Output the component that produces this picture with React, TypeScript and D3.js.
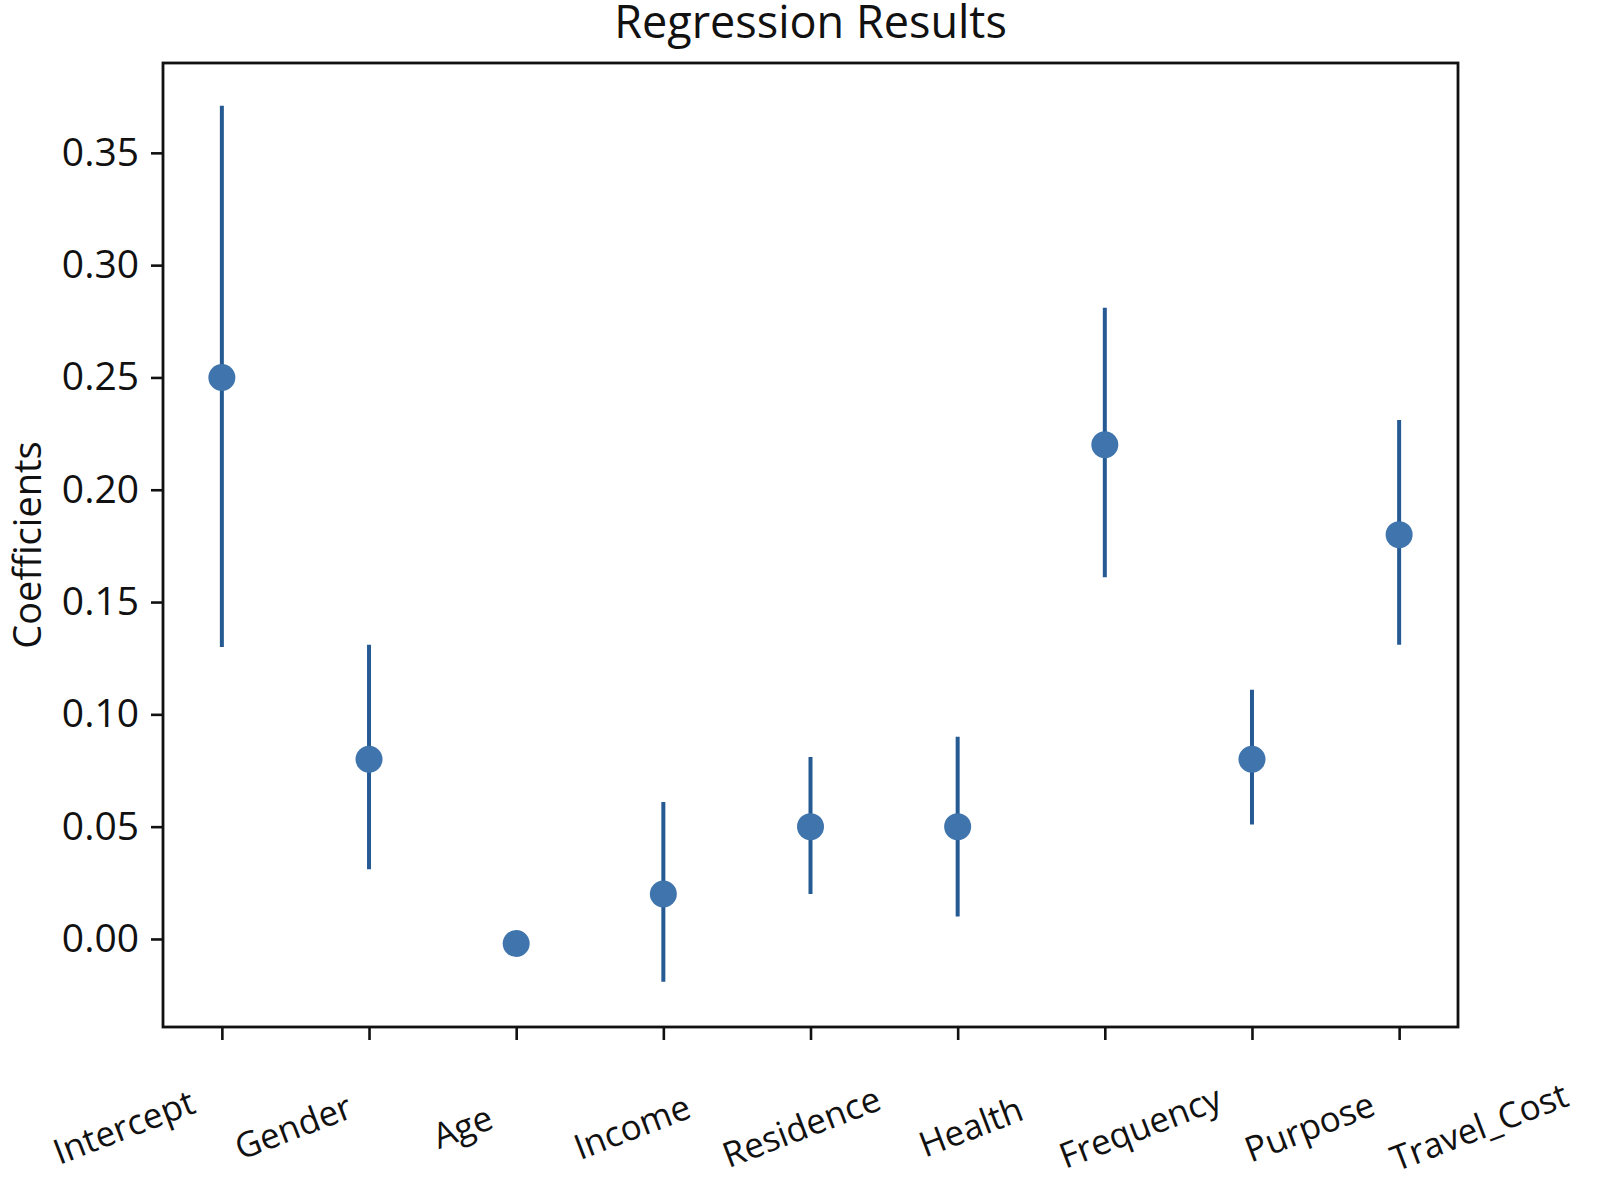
import React, { useEffect, useRef } from "react";
import * as d3 from "d3";

const variables = [
  "Intercept",
  "Gender",
  "Age",
  "Income",
  "Residence",
  "Health",
  "Frequency",
  "Purpose",
  "Travel_Cost",
];
const coefficients = [0.25, 0.08, -0.002, 0.02, 0.05, 0.05, 0.22, 0.08, 0.18];
const lowerBounds = [0.13, 0.031, -0.002, -0.019, 0.02, 0.01, 0.161, 0.051, 0.131];
const upperBounds = [0.371, 0.131, -0.002, 0.061, 0.081, 0.09, 0.281, 0.111, 0.231];
const yTicks = [0.0, 0.05, 0.1, 0.15, 0.2, 0.25, 0.3, 0.35];

const FONT = "'Open Sans', 'DejaVu Sans', sans-serif";

const App = () => {
  const svgRef = useRef<SVGSVGElement | null>(null);

  useEffect(() => {
    const width = 1599;
    const height = 1182;
    const margin = { top: 63, right: 141, bottom: 155, left: 163 };

    const svg = d3.select(svgRef.current);
    svg.selectAll("*").remove();

    const xScale = d3
      .scaleLinear()
      .domain([-0.4, variables.length - 1 + 0.4])
      .range([margin.left, width - margin.right]);

    const yScale = d3
      .scaleLinear()
      .domain([-0.0392, 0.39])
      .range([height - margin.bottom, margin.top]);

    // x tick labels sit on their own, slightly wider, spacing
    const labelScale = d3
      .scaleLinear()
      .domain([0, variables.length - 1])
      .range([xScale(0) - 98, xScale(variables.length - 1) + 80]);

    const plotBottom = height - margin.bottom;

    // y axis
    const yAxis = svg
      .append("g")
      .attr("transform", `translate(${margin.left},0)`)
      .call(
        d3
          .axisLeft(yScale)
          .tickValues(yTicks)
          .tickFormat(d3.format(".2f"))
          .tickSize(12)
          .tickPadding(12)
      );
    yAxis.select(".domain").remove();
    yAxis.selectAll(".tick line").attr("stroke", "#111").attr("stroke-width", 2.6);
    yAxis
      .selectAll(".tick text")
      .attr("fill", "#111")
      .style("font-family", FONT)
      .style("font-size", "39px");

    // x axis ticks
    const xAxis = svg
      .append("g")
      .attr("transform", `translate(0,${plotBottom})`)
      .call(
        d3
          .axisBottom(xScale)
          .tickValues(d3.range(variables.length))
          .tickFormat(() => "")
          .tickSize(13)
      );
    xAxis.select(".domain").remove();
    xAxis.selectAll(".tick line").attr("stroke", "#111").attr("stroke-width", 2.6);

    // x labels
    svg
      .append("g")
      .selectAll("text")
      .data(variables)
      .enter()
      .append("text")
      .attr("transform", (d, i) => `translate(${labelScale(i)},1127) rotate(-21)`)
      .attr("text-anchor", "middle")
      .attr("dy", "0.35em")
      .style("font-family", FONT)
      .style("font-size", "35px")
      .attr("fill", "#111")
      .text((d) => d);

    // frame
    svg
      .append("rect")
      .attr("x", margin.left)
      .attr("y", margin.top)
      .attr("width", width - margin.right - margin.left)
      .attr("height", plotBottom - margin.top)
      .attr("fill", "none")
      .attr("stroke", "#111")
      .attr("stroke-width", 2.8);

    // error bars
    svg
      .append("g")
      .selectAll("line")
      .data(variables)
      .enter()
      .append("line")
      .attr("x1", (d, i) => xScale(i))
      .attr("x2", (d, i) => xScale(i))
      .attr("y1", (d, i) => yScale(lowerBounds[i]))
      .attr("y2", (d, i) => yScale(upperBounds[i]))
      .attr("stroke", "#255a93")
      .attr("stroke-width", 4);

    // points
    svg
      .append("g")
      .selectAll("circle")
      .data(variables)
      .enter()
      .append("circle")
      .attr("cx", (d, i) => xScale(i))
      .attr("cy", (d, i) => yScale(coefficients[i]))
      .attr("r", 13.5)
      .attr("fill", "#3f74ad");

    // title
    svg
      .append("text")
      .attr("x", (margin.left + width - margin.right) / 2)
      .attr("y", 38)
      .attr("text-anchor", "middle")
      .style("font-family", FONT)
      .style("font-size", "45px")
      .attr("fill", "#111")
      .text("Regression Results");

    // y label
    svg
      .append("text")
      .attr("transform", `translate(41,${(margin.top + plotBottom) / 2}) rotate(-90)`)
      .attr("text-anchor", "middle")
      .style("font-family", FONT)
      .style("font-size", "38px")
      .attr("fill", "#111")
      .text("Coefficients");
  }, []);

  return (
    <svg
      ref={svgRef}
      width={1599}
      height={1182}
      style={{ position: "absolute", left: 0, top: 0, background: "white" }}
    ></svg>
  );
};

export default App;
